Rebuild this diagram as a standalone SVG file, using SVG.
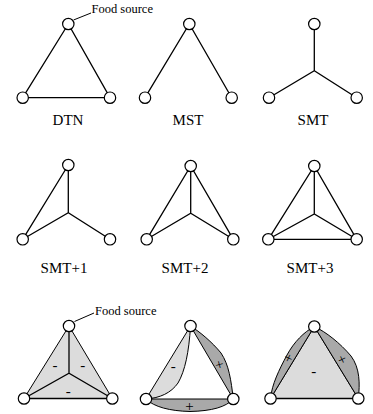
<svg xmlns="http://www.w3.org/2000/svg" width="373" height="414" viewBox="0 0 373 414">
  <style>
    .edge { stroke: #000; stroke-width: 1.3; fill: none; stroke-linecap: round; }
    .lead { stroke: #000; stroke-width: 1; fill: none; }
    .node { fill: #fff; stroke: #000; stroke-width: 1.2; }
    text { font-family: "Liberation Serif", "DejaVu Serif", serif; fill: #000; }
    .lbl { font-size: 15px; text-anchor: middle; }
    .note { font-size: 12.5px; }
    .sign { font-size: 15px; text-anchor: middle; }
    .light { fill: #dcdcdc; stroke: #000; stroke-width: 1; }
    .dark { fill: #a9a9a9; stroke: #000; stroke-width: 1; }
  </style>

  <!-- shaded regions (bottom row) -->
  <g id="regions">
    <polygon class="light" points="69,326 24,398.5 112.3,398.5"/>
    <!-- middle: two-sided lobes -->
    <path class="light" d="M190.5,326 L146,399 C160,398 171,393 178,383 C185,371 189,352 190.5,326 Z"/>
    <path class="dark" d="M190.5,326 C200,332 212,342 221,353 C229,365 231,380 233.3,399 Z"/>
    <path class="dark" d="M146,399 C154,407 170,411 190,411.5 C212,411 226,407 233.3,399 Z"/>
    <!-- right: main face and side lobes -->
    <polygon class="light" points="314.3,326.5 270.5,398.5 358.3,398.5"/>
    <path class="dark" d="M314.3,326.5 C304,332 294,342 287,355 C279,370 272,384 270.5,398.5 Z"/>
    <path class="dark" d="M314.3,326.5 C326,332 340,343 351,356 C360,368 360,384 358.3,398.5 Z"/>
  </g>

  <g id="connectors">
    <!-- DTN -->
    <path class="edge" d="M68.3,24 L22.7,97.7 L110,97.7 Z"/>
    <!-- MST -->
    <path class="edge" d="M145,97.7 L189.3,24 L231.7,97.7"/>
    <!-- SMT -->
    <path class="edge" d="M314.3,24 L314.3,70.7 M269,97.7 L314.3,70.7 L356.7,97.7"/>
    <!-- SMT+1 -->
    <path class="edge" d="M68.3,165 L68.3,212.7 M22.7,239.3 L68.3,212.7 L110,239.3 M22.7,239.3 L68.3,165"/>
    <!-- SMT+2 -->
    <path class="edge" d="M190.7,166 L190.7,213.3 M146.7,239.3 L190.7,213.3 L233.3,239.3 M146.7,239.3 L190.7,166 L233.3,239.3"/>
    <!-- SMT+3 -->
    <path class="edge" d="M314.3,166 L314.3,214 M268.3,239.3 L314.3,214 L356.7,239.3 M268.3,239.3 L314.3,166 L356.7,239.3 Z"/>
    <!-- bottom-left Steiner tree over the face -->
    <path class="edge" d="M69,326 L69,373.3 M24,398.5 L69,373.3 L112.3,398.5 M24,398.5 L112.3,398.5"/>
    <!-- bottom-right base edge -->
    <path class="edge" d="M270.5,398.5 L358.3,398.5"/>
    <!-- leaders -->
    <path class="lead" d="M73.5,20 L91,13"/>
    <path class="lead" d="M74.5,321.5 L94,313"/>
  </g>

  <!-- nodes -->
  <g id="dtn">
    <circle class="node" cx="68.3" cy="24" r="5.7"/>
    <circle class="node" cx="22.7" cy="97.7" r="5.7"/>
    <circle class="node" cx="110" cy="97.7" r="5.7"/>
    <text class="lbl" x="68" y="125">DTN</text>
    <text class="note" x="91.5" y="13">Food source</text>
  </g>
  <g id="mst">
    <circle class="node" cx="189.3" cy="24" r="5.7"/>
    <circle class="node" cx="145" cy="97.7" r="5.7"/>
    <circle class="node" cx="231.7" cy="97.7" r="5.7"/>
    <text class="lbl" x="188" y="125">MST</text>
  </g>
  <g id="smt">
    <circle class="node" cx="314.3" cy="24" r="5.7"/>
    <circle class="node" cx="269" cy="97.7" r="5.7"/>
    <circle class="node" cx="356.7" cy="97.7" r="5.7"/>
    <text class="lbl" x="313" y="125">SMT</text>
  </g>
  <g id="smt1">
    <circle class="node" cx="68.3" cy="165" r="5.7"/>
    <circle class="node" cx="22.7" cy="239.3" r="5.7"/>
    <circle class="node" cx="110" cy="239.3" r="5.7"/>
    <text class="lbl" x="64" y="273">SMT+1</text>
  </g>
  <g id="smt2">
    <circle class="node" cx="190.7" cy="166" r="5.7"/>
    <circle class="node" cx="146.7" cy="239.3" r="5.7"/>
    <circle class="node" cx="233.3" cy="239.3" r="5.7"/>
    <text class="lbl" x="185" y="273">SMT+2</text>
  </g>
  <g id="smt3">
    <circle class="node" cx="314.3" cy="166" r="5.7"/>
    <circle class="node" cx="268.3" cy="239.3" r="5.7"/>
    <circle class="node" cx="356.7" cy="239.3" r="5.7"/>
    <text class="lbl" x="310" y="273">SMT+3</text>
  </g>
  <g id="steiner-cost">
    <circle class="node" cx="69" cy="326" r="5.7"/>
    <circle class="node" cx="24" cy="398.5" r="5.7"/>
    <circle class="node" cx="112.3" cy="398.5" r="5.7"/>
    <text class="sign" x="55" y="370">-</text>
    <text class="sign" x="82.7" y="370">-</text>
    <text class="sign" x="68.3" y="396">-</text>
    <text class="note" x="95" y="315">Food source</text>
  </g>
  <g id="lobe-cost">
    <circle class="node" cx="190.5" cy="326" r="5.7"/>
    <circle class="node" cx="146" cy="399" r="5.7"/>
    <circle class="node" cx="233.3" cy="399" r="5.7"/>
    <text class="sign" x="173.3" y="371">-</text>
    <text class="sign" x="219.5" y="369.5" transform="rotate(-15 219.5 365)">+</text>
    <text class="sign" x="189.5" y="410.5">+</text>
  </g>
  <g id="face-cost">
    <circle class="node" cx="314.3" cy="326.5" r="5.7"/>
    <circle class="node" cx="270.5" cy="398.5" r="5.7"/>
    <circle class="node" cx="358.3" cy="398.5" r="5.7"/>
    <text class="sign" x="288.3" y="363" transform="rotate(25 288.3 358.3)">+</text>
    <text class="sign" x="342.3" y="364.5" transform="rotate(-25 342.3 360)">+</text>
    <text class="sign" x="313.7" y="376">-</text>
  </g>
</svg>
